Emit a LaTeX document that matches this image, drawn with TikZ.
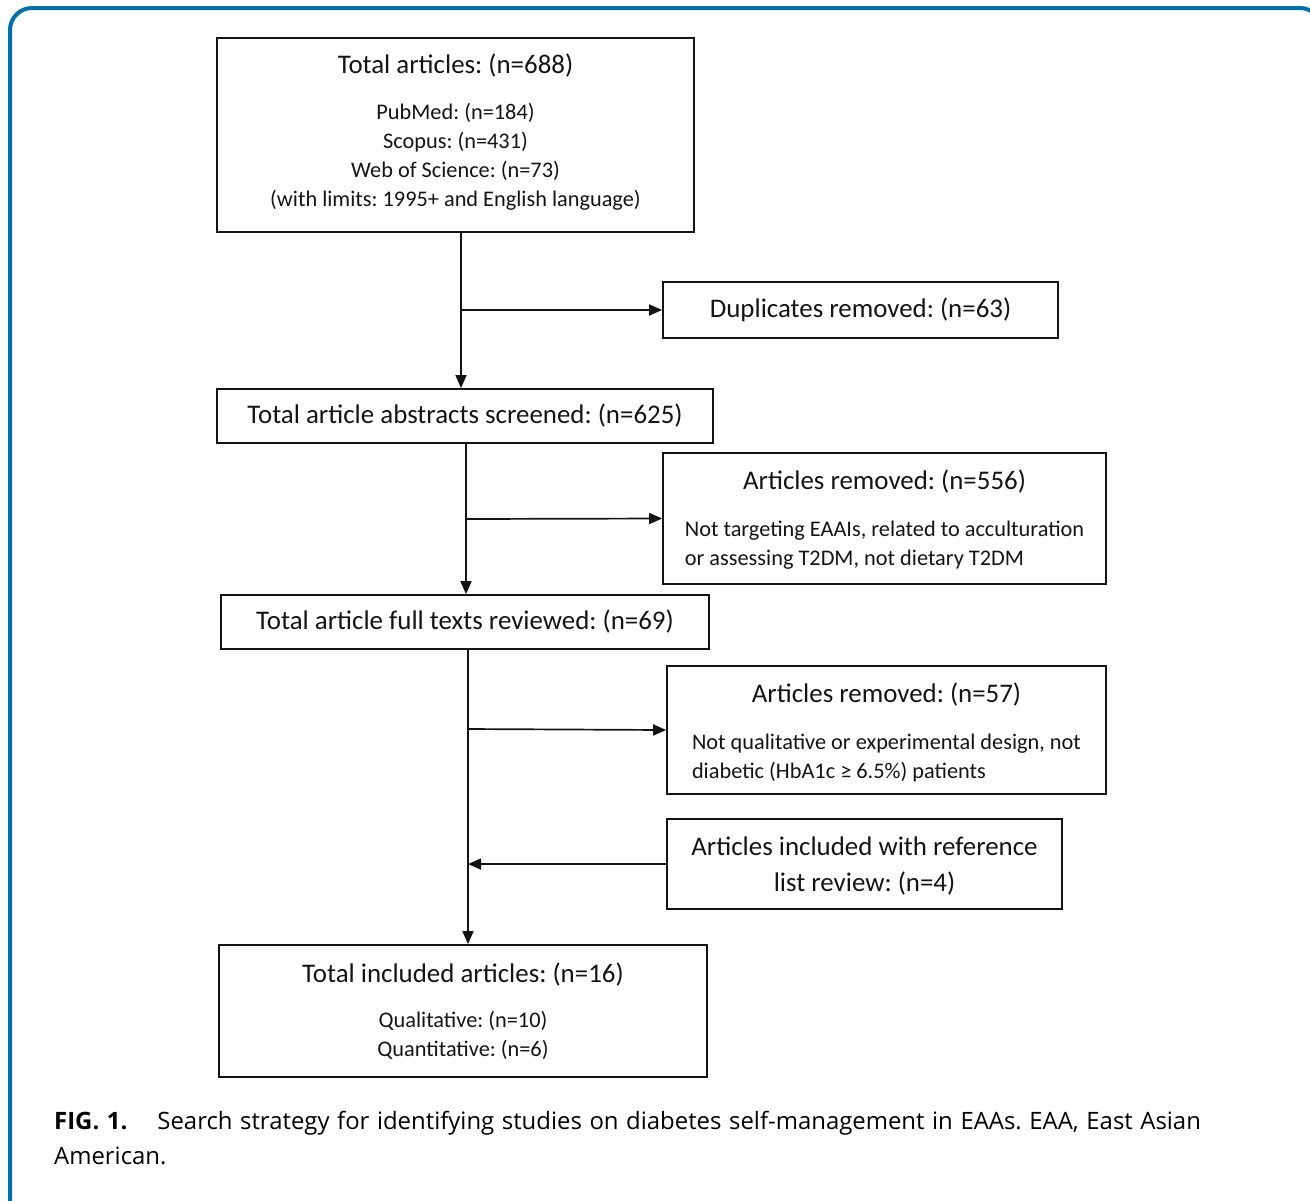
\documentclass[tikz,border=0pt]{standalone}
\usepackage{fontspec}
\setmainfont{Carlito}
\newfontfamily\capfont{Open Sans}[WordSpace=1.22]
\usepackage{tikz}
\usetikzlibrary{arrows.meta,positioning,calc}
\definecolor{frameblue}{RGB}{0,112,168}
\definecolor{inkgray}{RGB}{20,20,20}
\newcommand{\flowtitle}[1]{{\fontsize{27}{29}\selectfont #1}}
\frenchspacing

\begin{document}
\begin{tikzpicture}[x=1bp, y=-1bp, >={Triangle[length=13bp,width=11bp]},
    flowbox/.style={rectangle, draw=inkgray, line width=1.7bp, align=center, inner sep=0pt, text=inkgray, font=\fontsize{22.4}{29}\selectfont},
    onebox/.style={flowbox, font=\fontsize{27}{36}\selectfont},
    flow/.style={->, draw=inkgray, line width=1.7bp}]

    \useasboundingbox (0,0) rectangle (1310,1200);
    % panel frame, only left and top edges show
    \draw[frameblue, line width=4bp, rounded corners=22bp] (10,8) rectangle (1322,1240);

    \node[flowbox, minimum width=477bp, minimum height=194bp] (tot) at (455.5,135) {\flowtitle{Total articles: (n=688)}\\[18bp]
        PubMed: (n=184)\\Scopus: (n=431)\\Web of Science: (n=73)\\(with limits: 1995+ and English language)\rule[-10bp]{0pt}{0pt}};
    \node[onebox, minimum width=395bp, minimum height=56bp] (dup) at (860.5,310) {Duplicates removed: (n=63)};
    \node[onebox, minimum width=496bp, minimum height=54bp] (scr) at (465,416) {Total article abstracts screened: (n=625)};
    \node[flowbox, minimum width=443bp, minimum height=131bp] (rem1) at (884.5,518.5) {\rule{0pt}{26bp}\flowtitle{Articles removed: (n=556)}\\[22bp]
        \begin{tabular}{@{}l@{}}Not targeting EAAIs, related to acculturation\\or assessing T2DM, not dietary T2DM\end{tabular}};
    \node[onebox, minimum width=488bp, minimum height=54bp] (full) at (465,622) {Total article full texts reviewed: (n=69)};
    \node[flowbox, minimum width=439bp, minimum height=128bp] (rem2) at (886.5,730) {\rule{0pt}{29bp}\flowtitle{Articles removed: (n=57)}\\[22bp]
        \begin{tabular}{@{}l@{}}Not qualitative or experimental design, not\\diabetic (HbA1c ≥ 6.5\%) patients\end{tabular}};
    \node[onebox, minimum width=395bp, minimum height=90bp] (refl) at (864.5,864) {\rule{0pt}{23.5bp}Articles included with reference\\list review: (n=4)};
    \node[flowbox, minimum width=488bp, minimum height=132bp] (incl) at (463,1011) {\flowtitle{Total included articles: (n=16)}\\[16bp]
        Qualitative: (n=10)\\Quantitative: (n=6)};

    \coordinate (j1) at (461,310);
    \coordinate (j2) at (466,519);
    \coordinate (j3) at (468,729);

    \draw[flow] (j1 |- tot.south) -- (j1 |- scr.north);
    \draw[flow] (j1) -- (dup.west);
    \draw[flow] (j2 |- scr.south) -- (j2 |- full.north);
    \draw[flow] (j2) -- (rem1.west);
    \draw[flow] (j3 |- full.south) -- (j3 |- incl.north);
    \draw[flow] (j3) -- (rem2.west);
    \draw[flow] (refl.west) -- (refl.west -| j3);

    \node[anchor=north west, align=left, inner sep=0pt, font=\capfont\fontsize{24}{35}\selectfont] (cap) at (54,1111)
        {\textbf{FIG. 1.}\hspace{30bp}Search strategy for identifying studies on diabetes self-management in EAAs. EAA, East Asian\\American.};
\end{tikzpicture}
\end{document}
